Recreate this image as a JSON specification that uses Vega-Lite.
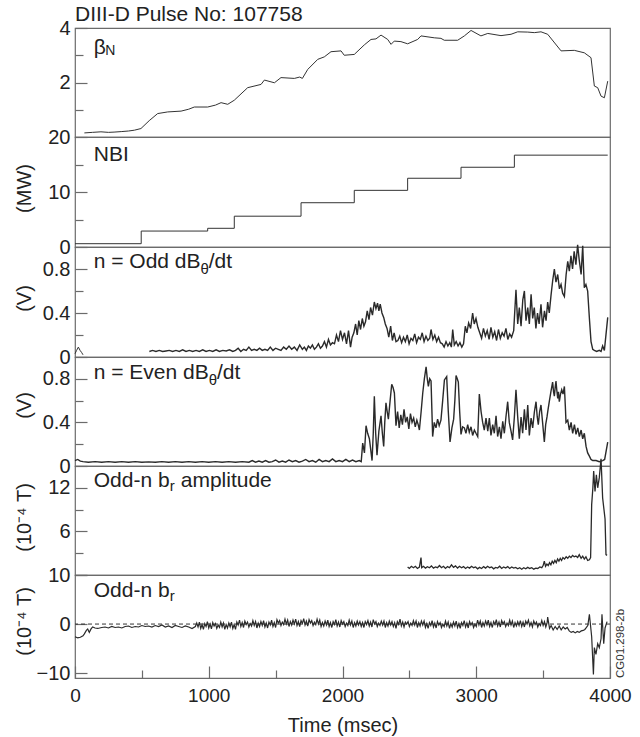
{
"$schema": "https://vega.github.io/schema/vega-lite/v6.json",
"padding": {"left": 13, "top": 4, "right": 0, "bottom": 0},
"title": {"text": "DIII-D Pulse No: 107758", "anchor": "start", "frame": "group", "fontSize": 21, "fontWeight": "normal", "color": "#222", "offset": -8},
"bounds": "flush",
"spacing": 0,
"datasets": {
"beta": [{"t":70,"v":0.15},{"t":130,"v":0.17},{"t":194,"v":0.19},{"t":250,"v":0.17},{"t":292,"v":0.18},{"t":350,"v":0.2},{"t":400,"v":0.22},{"t":444,"v":0.25},{"t":493,"v":0.31},{"t":555,"v":0.6},{"t":618,"v":0.86},{"t":693,"v":0.92},{"t":793,"v":0.95},{"t":850,"v":1.02},{"t":892,"v":1.1},{"t":992,"v":1.1},{"t":1050,"v":1.17},{"t":1092,"v":1.26},{"t":1142,"v":1.2},{"t":1191,"v":1.35},{"t":1291,"v":1.81},{"t":1391,"v":1.93},{"t":1416,"v":2.09},{"t":1491,"v":1.99},{"t":1540,"v":2.18},{"t":1640,"v":2.15},{"t":1680,"v":2.2},{"t":1700,"v":2.15},{"t":1740,"v":2.48},{"t":1815,"v":2.85},{"t":1864,"v":2.94},{"t":1914,"v":3.13},{"t":1989,"v":3.16},{"t":2013,"v":3.0},{"t":2088,"v":3.03},{"t":2163,"v":3.38},{"t":2213,"v":3.58},{"t":2250,"v":3.6},{"t":2288,"v":3.74},{"t":2338,"v":3.58},{"t":2363,"v":3.4},{"t":2387,"v":3.52},{"t":2437,"v":3.5},{"t":2487,"v":3.42},{"t":2562,"v":3.58},{"t":2587,"v":3.71},{"t":2686,"v":3.64},{"t":2736,"v":3.62},{"t":2761,"v":3.55},{"t":2861,"v":3.55},{"t":2911,"v":3.71},{"t":2961,"v":3.91},{"t":3035,"v":3.71},{"t":3086,"v":3.8},{"t":3185,"v":3.72},{"t":3260,"v":3.77},{"t":3310,"v":3.86},{"t":3385,"v":3.85},{"t":3434,"v":3.83},{"t":3484,"v":3.86},{"t":3534,"v":3.77},{"t":3634,"v":3.16},{"t":3733,"v":3.18},{"t":3808,"v":3.09},{"t":3858,"v":2.91},{"t":3883,"v":1.87},{"t":3908,"v":1.81},{"t":3933,"v":1.5},{"t":3958,"v":1.44},{"t":3983,"v":2.05}],
"nbi": [{"t":0,"v":0.6},{"t":495,"v":2.9},{"t":992,"v":3.4},{"t":1191,"v":5.6},{"t":1690,"v":8.05},{"t":2088,"v":10.3},{"t":2487,"v":12.5},{"t":2886,"v":14.5},{"t":3285,"v":16.7},{"t":3983,"v":16.7}],
"odd0": [{"t":0,"v":0.03},{"t":12,"v":0.06},{"t":25,"v":0.09},{"t":38,"v":0.06},{"t":50,"v":0.04},{"t":60,"v":0.02}],
"odd": [{"t":556,"v":0.05},{"t":580,"v":0.06},{"t":605,"v":0.05},{"t":630,"v":0.06},{"t":655,"v":0.05},{"t":680,"v":0.055},{"t":705,"v":0.06},{"t":730,"v":0.05},{"t":755,"v":0.06},{"t":780,"v":0.05},{"t":805,"v":0.065},{"t":830,"v":0.05},{"t":855,"v":0.06},{"t":880,"v":0.05},{"t":905,"v":0.06},{"t":930,"v":0.05},{"t":955,"v":0.065},{"t":980,"v":0.05},{"t":1005,"v":0.06},{"t":1030,"v":0.05},{"t":1055,"v":0.065},{"t":1080,"v":0.05},{"t":1105,"v":0.06},{"t":1130,"v":0.055},{"t":1155,"v":0.065},{"t":1180,"v":0.05},{"t":1200,"v":0.06},{"t":1220,"v":0.08},{"t":1240,"v":0.05},{"t":1260,"v":0.07},{"t":1280,"v":0.06},{"t":1300,"v":0.09},{"t":1320,"v":0.06},{"t":1340,"v":0.07},{"t":1360,"v":0.06},{"t":1380,"v":0.08},{"t":1400,"v":0.06},{"t":1420,"v":0.07},{"t":1440,"v":0.06},{"t":1460,"v":0.09},{"t":1480,"v":0.06},{"t":1500,"v":0.08},{"t":1520,"v":0.07},{"t":1540,"v":0.06},{"t":1560,"v":0.09},{"t":1580,"v":0.07},{"t":1600,"v":0.1},{"t":1620,"v":0.07},{"t":1640,"v":0.09},{"t":1660,"v":0.06},{"t":1680,"v":0.11},{"t":1700,"v":0.07},{"t":1715,"v":0.09},{"t":1730,"v":0.06},{"t":1745,"v":0.1},{"t":1760,"v":0.08},{"t":1775,"v":0.11},{"t":1790,"v":0.07},{"t":1805,"v":0.09},{"t":1820,"v":0.12},{"t":1835,"v":0.08},{"t":1850,"v":0.1},{"t":1865,"v":0.14},{"t":1880,"v":0.09},{"t":1895,"v":0.16},{"t":1910,"v":0.11},{"t":1925,"v":0.13},{"t":1940,"v":0.12},{"t":1955,"v":0.2},{"t":1970,"v":0.14},{"t":1985,"v":0.24},{"t":2000,"v":0.16},{"t":2015,"v":0.22},{"t":2030,"v":0.12},{"t":2045,"v":0.24},{"t":2060,"v":0.09},{"t":2072,"v":0.18},{"t":2085,"v":0.22},{"t":2098,"v":0.3},{"t":2110,"v":0.2},{"t":2122,"v":0.33},{"t":2135,"v":0.25},{"t":2148,"v":0.35},{"t":2160,"v":0.28},{"t":2172,"v":0.32},{"t":2185,"v":0.42},{"t":2198,"v":0.34},{"t":2210,"v":0.45},{"t":2224,"v":0.38},{"t":2238,"v":0.5},{"t":2250,"v":0.44},{"t":2262,"v":0.49},{"t":2272,"v":0.42},{"t":2282,"v":0.48},{"t":2295,"v":0.4},{"t":2308,"v":0.36},{"t":2320,"v":0.3},{"t":2333,"v":0.26},{"t":2346,"v":0.18},{"t":2360,"v":0.28},{"t":2373,"v":0.15},{"t":2386,"v":0.22},{"t":2400,"v":0.14},{"t":2414,"v":0.15},{"t":2428,"v":0.19},{"t":2442,"v":0.13},{"t":2456,"v":0.18},{"t":2470,"v":0.14},{"t":2484,"v":0.2},{"t":2498,"v":0.12},{"t":2512,"v":0.17},{"t":2526,"v":0.15},{"t":2540,"v":0.21},{"t":2554,"v":0.13},{"t":2568,"v":0.18},{"t":2582,"v":0.16},{"t":2596,"v":0.22},{"t":2610,"v":0.14},{"t":2624,"v":0.19},{"t":2638,"v":0.15},{"t":2652,"v":0.17},{"t":2662,"v":0.25},{"t":2676,"v":0.16},{"t":2690,"v":0.2},{"t":2704,"v":0.14},{"t":2718,"v":0.18},{"t":2732,"v":0.13},{"t":2746,"v":0.12},{"t":2760,"v":0.09},{"t":2774,"v":0.14},{"t":2788,"v":0.1},{"t":2802,"v":0.13},{"t":2814,"v":0.09},{"t":2824,"v":0.25},{"t":2836,"v":0.11},{"t":2850,"v":0.14},{"t":2864,"v":0.1},{"t":2878,"v":0.13},{"t":2892,"v":0.09},{"t":2905,"v":0.12},{"t":2918,"v":0.28},{"t":2930,"v":0.22},{"t":2943,"v":0.31},{"t":2958,"v":0.26},{"t":2973,"v":0.4},{"t":2985,"v":0.3},{"t":2998,"v":0.35},{"t":3012,"v":0.27},{"t":3026,"v":0.22},{"t":3040,"v":0.17},{"t":3054,"v":0.26},{"t":3068,"v":0.19},{"t":3082,"v":0.24},{"t":3096,"v":0.16},{"t":3110,"v":0.27},{"t":3124,"v":0.18},{"t":3138,"v":0.23},{"t":3152,"v":0.15},{"t":3166,"v":0.25},{"t":3180,"v":0.17},{"t":3194,"v":0.22},{"t":3208,"v":0.19},{"t":3222,"v":0.26},{"t":3236,"v":0.16},{"t":3250,"v":0.21},{"t":3264,"v":0.18},{"t":3280,"v":0.24},{"t":3297,"v":0.61},{"t":3310,"v":0.3},{"t":3322,"v":0.45},{"t":3335,"v":0.28},{"t":3348,"v":0.52},{"t":3360,"v":0.6},{"t":3372,"v":0.33},{"t":3385,"v":0.45},{"t":3397,"v":0.3},{"t":3410,"v":0.57},{"t":3422,"v":0.35},{"t":3434,"v":0.45},{"t":3446,"v":0.26},{"t":3458,"v":0.4},{"t":3470,"v":0.3},{"t":3484,"v":0.48},{"t":3496,"v":0.27},{"t":3510,"v":0.42},{"t":3522,"v":0.33},{"t":3534,"v":0.5},{"t":3546,"v":0.4},{"t":3559,"v":0.56},{"t":3572,"v":0.7},{"t":3584,"v":0.8},{"t":3596,"v":0.68},{"t":3609,"v":0.75},{"t":3622,"v":0.62},{"t":3634,"v":0.66},{"t":3646,"v":0.58},{"t":3659,"v":0.55},{"t":3672,"v":0.75},{"t":3684,"v":0.87},{"t":3696,"v":0.78},{"t":3708,"v":0.92},{"t":3720,"v":0.8},{"t":3732,"v":0.96},{"t":3745,"v":0.84},{"t":3758,"v":1.02},{"t":3770,"v":0.88},{"t":3784,"v":0.75},{"t":3796,"v":1.01},{"t":3808,"v":0.63},{"t":3820,"v":0.66},{"t":3833,"v":0.6},{"t":3846,"v":0.35},{"t":3858,"v":0.14},{"t":3871,"v":0.07},{"t":3883,"v":0.06},{"t":3900,"v":0.05},{"t":3920,"v":0.06},{"t":3933,"v":0.05},{"t":3945,"v":0.1},{"t":3958,"v":0.06},{"t":3983,"v":0.36}],
"even": [{"t":0,"v":0.05},{"t":20,"v":0.06},{"t":40,"v":0.045},{"t":60,"v":0.04},{"t":100,"v":0.035},{"t":150,"v":0.04},{"t":200,"v":0.035},{"t":250,"v":0.04},{"t":300,"v":0.035},{"t":350,"v":0.04},{"t":400,"v":0.035},{"t":450,"v":0.04},{"t":500,"v":0.035},{"t":550,"v":0.038},{"t":600,"v":0.035},{"t":650,"v":0.04},{"t":700,"v":0.035},{"t":750,"v":0.04},{"t":800,"v":0.035},{"t":850,"v":0.04},{"t":900,"v":0.035},{"t":950,"v":0.04},{"t":1000,"v":0.035},{"t":1050,"v":0.04},{"t":1100,"v":0.035},{"t":1150,"v":0.04},{"t":1200,"v":0.035},{"t":1250,"v":0.04},{"t":1300,"v":0.035},{"t":1325,"v":0.05},{"t":1350,"v":0.035},{"t":1375,"v":0.045},{"t":1400,"v":0.035},{"t":1425,"v":0.05},{"t":1450,"v":0.035},{"t":1475,"v":0.04},{"t":1500,"v":0.055},{"t":1525,"v":0.035},{"t":1550,"v":0.045},{"t":1575,"v":0.035},{"t":1600,"v":0.055},{"t":1625,"v":0.04},{"t":1650,"v":0.05},{"t":1675,"v":0.035},{"t":1700,"v":0.045},{"t":1725,"v":0.06},{"t":1750,"v":0.04},{"t":1775,"v":0.05},{"t":1800,"v":0.035},{"t":1825,"v":0.06},{"t":1850,"v":0.04},{"t":1875,"v":0.05},{"t":1900,"v":0.04},{"t":1925,"v":0.065},{"t":1950,"v":0.04},{"t":1975,"v":0.05},{"t":2000,"v":0.04},{"t":2025,"v":0.06},{"t":2050,"v":0.04},{"t":2075,"v":0.055},{"t":2100,"v":0.04},{"t":2125,"v":0.05},{"t":2140,"v":0.04},{"t":2151,"v":0.21},{"t":2164,"v":0.12},{"t":2176,"v":0.37},{"t":2188,"v":0.3},{"t":2201,"v":0.25},{"t":2211,"v":0.15},{"t":2221,"v":0.05},{"t":2230,"v":0.3},{"t":2238,"v":0.64},{"t":2248,"v":0.3},{"t":2258,"v":0.1},{"t":2272,"v":0.32},{"t":2288,"v":0.46},{"t":2298,"v":0.3},{"t":2308,"v":0.18},{"t":2316,"v":0.4},{"t":2325,"v":0.58},{"t":2334,"v":0.5},{"t":2343,"v":0.43},{"t":2356,"v":0.6},{"t":2368,"v":0.75},{"t":2378,"v":0.72},{"t":2388,"v":0.67},{"t":2400,"v":0.37},{"t":2412,"v":0.5},{"t":2424,"v":0.35},{"t":2436,"v":0.47},{"t":2448,"v":0.38},{"t":2460,"v":0.52},{"t":2472,"v":0.4},{"t":2484,"v":0.45},{"t":2496,"v":0.34},{"t":2508,"v":0.48},{"t":2520,"v":0.4},{"t":2532,"v":0.44},{"t":2544,"v":0.36},{"t":2556,"v":0.42},{"t":2566,"v":0.38},{"t":2575,"v":0.33},{"t":2588,"v":0.5},{"t":2600,"v":0.67},{"t":2612,"v":0.8},{"t":2625,"v":0.91},{"t":2634,"v":0.8},{"t":2642,"v":0.73},{"t":2652,"v":0.8},{"t":2662,"v":0.78},{"t":2674,"v":0.27},{"t":2686,"v":0.4},{"t":2699,"v":0.35},{"t":2711,"v":0.43},{"t":2723,"v":0.37},{"t":2736,"v":0.42},{"t":2749,"v":0.6},{"t":2762,"v":0.79},{"t":2779,"v":0.82},{"t":2791,"v":0.5},{"t":2804,"v":0.22},{"t":2818,"v":0.35},{"t":2831,"v":0.43},{"t":2840,"v":0.6},{"t":2849,"v":0.83},{"t":2858,"v":0.8},{"t":2866,"v":0.77},{"t":2876,"v":0.5},{"t":2886,"v":0.29},{"t":2898,"v":0.36},{"t":2911,"v":0.35},{"t":2923,"v":0.3},{"t":2936,"v":0.38},{"t":2948,"v":0.31},{"t":2961,"v":0.36},{"t":2973,"v":0.28},{"t":2986,"v":0.33},{"t":2998,"v":0.3},{"t":3011,"v":0.27},{"t":3023,"v":0.66},{"t":3036,"v":0.5},{"t":3048,"v":0.4},{"t":3060,"v":0.33},{"t":3073,"v":0.44},{"t":3086,"v":0.32},{"t":3098,"v":0.44},{"t":3110,"v":0.28},{"t":3123,"v":0.38},{"t":3135,"v":0.3},{"t":3148,"v":0.46},{"t":3160,"v":0.27},{"t":3173,"v":0.36},{"t":3185,"v":0.25},{"t":3198,"v":0.41},{"t":3210,"v":0.3},{"t":3222,"v":0.45},{"t":3235,"v":0.59},{"t":3247,"v":0.4},{"t":3260,"v":0.32},{"t":3272,"v":0.24},{"t":3285,"v":0.45},{"t":3297,"v":0.7},{"t":3310,"v":0.45},{"t":3322,"v":0.25},{"t":3335,"v":0.45},{"t":3347,"v":0.3},{"t":3360,"v":0.52},{"t":3372,"v":0.33},{"t":3385,"v":0.56},{"t":3397,"v":0.28},{"t":3410,"v":0.44},{"t":3422,"v":0.35},{"t":3435,"v":0.5},{"t":3447,"v":0.59},{"t":3456,"v":0.45},{"t":3464,"v":0.38},{"t":3474,"v":0.5},{"t":3484,"v":0.56},{"t":3496,"v":0.4},{"t":3509,"v":0.22},{"t":3519,"v":0.38},{"t":3529,"v":0.45},{"t":3537,"v":0.52},{"t":3546,"v":0.59},{"t":3558,"v":0.68},{"t":3571,"v":0.77},{"t":3578,"v":0.68},{"t":3584,"v":0.64},{"t":3590,"v":0.72},{"t":3596,"v":0.78},{"t":3602,"v":0.7},{"t":3609,"v":0.62},{"t":3615,"v":0.68},{"t":3621,"v":0.59},{"t":3630,"v":0.66},{"t":3639,"v":0.7},{"t":3649,"v":0.66},{"t":3659,"v":0.73},{"t":3666,"v":0.55},{"t":3671,"v":0.4},{"t":3684,"v":0.42},{"t":3696,"v":0.33},{"t":3709,"v":0.4},{"t":3721,"v":0.3},{"t":3734,"v":0.38},{"t":3746,"v":0.29},{"t":3759,"v":0.35},{"t":3771,"v":0.27},{"t":3784,"v":0.33},{"t":3796,"v":0.25},{"t":3808,"v":0.3},{"t":3821,"v":0.18},{"t":3833,"v":0.12},{"t":3846,"v":0.09},{"t":3858,"v":0.06},{"t":3871,"v":0.05},{"t":3896,"v":0.05},{"t":3920,"v":0.04},{"t":3945,"v":0.05},{"t":3960,"v":0.06},{"t":3983,"v":0.22}],
"amp": [{"t":2487,"v":1.1},{"t":2500,"v":0.9},{"t":2515,"v":1.2},{"t":2530,"v":1.0},{"t":2545,"v":1.2},{"t":2560,"v":0.9},{"t":2575,"v":1.1},{"t":2587,"v":2.4},{"t":2592,"v":1.0},{"t":2605,"v":1.2},{"t":2620,"v":0.95},{"t":2635,"v":1.15},{"t":2650,"v":1.0},{"t":2665,"v":1.25},{"t":2680,"v":0.95},{"t":2695,"v":1.1},{"t":2710,"v":1.0},{"t":2725,"v":1.3},{"t":2740,"v":1.0},{"t":2755,"v":1.2},{"t":2770,"v":0.9},{"t":2785,"v":1.15},{"t":2800,"v":1.0},{"t":2815,"v":1.4},{"t":2830,"v":1.05},{"t":2845,"v":1.25},{"t":2860,"v":0.95},{"t":2875,"v":1.2},{"t":2890,"v":1.0},{"t":2905,"v":1.15},{"t":2920,"v":0.9},{"t":2935,"v":1.1},{"t":2950,"v":0.95},{"t":2965,"v":1.2},{"t":2980,"v":1.0},{"t":2995,"v":1.1},{"t":3010,"v":0.85},{"t":3025,"v":1.05},{"t":3040,"v":0.9},{"t":3055,"v":1.15},{"t":3070,"v":0.95},{"t":3085,"v":1.2},{"t":3100,"v":1.0},{"t":3115,"v":1.1},{"t":3130,"v":0.85},{"t":3145,"v":1.05},{"t":3160,"v":0.95},{"t":3175,"v":1.2},{"t":3190,"v":0.9},{"t":3205,"v":1.1},{"t":3220,"v":0.95},{"t":3235,"v":1.15},{"t":3250,"v":0.9},{"t":3265,"v":1.1},{"t":3280,"v":0.95},{"t":3295,"v":1.05},{"t":3310,"v":0.85},{"t":3325,"v":1.0},{"t":3340,"v":0.8},{"t":3355,"v":1.0},{"t":3370,"v":0.85},{"t":3385,"v":1.05},{"t":3400,"v":0.9},{"t":3415,"v":1.0},{"t":3430,"v":0.8},{"t":3445,"v":0.95},{"t":3460,"v":0.9},{"t":3475,"v":1.1},{"t":3490,"v":1.0},{"t":3500,"v":1.3},{"t":3509,"v":1.9},{"t":3518,"v":1.2},{"t":3528,"v":1.5},{"t":3538,"v":1.3},{"t":3548,"v":1.7},{"t":3558,"v":1.4},{"t":3568,"v":1.9},{"t":3578,"v":1.6},{"t":3588,"v":2.0},{"t":3598,"v":1.7},{"t":3608,"v":2.2},{"t":3618,"v":1.9},{"t":3628,"v":2.3},{"t":3638,"v":2.0},{"t":3648,"v":2.4},{"t":3660,"v":2.2},{"t":3672,"v":2.5},{"t":3684,"v":2.3},{"t":3696,"v":2.6},{"t":3708,"v":2.4},{"t":3720,"v":2.7},{"t":3732,"v":2.5},{"t":3745,"v":2.6},{"t":3758,"v":2.4},{"t":3770,"v":2.8},{"t":3784,"v":2.3},{"t":3796,"v":2.6},{"t":3808,"v":2.2},{"t":3820,"v":2.5},{"t":3833,"v":2.0},{"t":3846,"v":2.1},{"t":3855,"v":2.4},{"t":3863,"v":9.7},{"t":3872,"v":12.0},{"t":3878,"v":14.3},{"t":3888,"v":11.5},{"t":3898,"v":13.8},{"t":3908,"v":12.0},{"t":3920,"v":13.4},{"t":3933,"v":16.0},{"t":3945,"v":10.6},{"t":3963,"v":7.7},{"t":3970,"v":2.8},{"t":3978,"v":2.7}],
"br": [{"t":0,"v":-2.6},{"t":20,"v":-2.8},{"t":40,"v":-2.7},{"t":60,"v":-2.4},{"t":70,"v":-2.0},{"t":85,"v":-1.3},{"t":95,"v":-1.0},{"t":107,"v":-1.7},{"t":120,"v":-1.0},{"t":132,"v":-0.6},{"t":150,"v":-0.8},{"t":170,"v":-0.9},{"t":200,"v":-0.7},{"t":225,"v":-0.6},{"t":250,"v":-0.8},{"t":275,"v":-0.5},{"t":300,"v":-0.7},{"t":325,"v":-0.6},{"t":350,"v":-0.8},{"t":375,"v":-0.5},{"t":400,"v":-0.4},{"t":425,"v":-0.7},{"t":450,"v":-0.5},{"t":475,"v":-0.6},{"t":500,"v":-0.3},{"t":525,"v":-0.5},{"t":550,"v":-0.4},{"t":575,"v":-0.6},{"t":600,"v":-0.3},{"t":625,"v":-0.5},{"t":650,"v":-0.2},{"t":675,"v":-0.6},{"t":700,"v":-0.4},{"t":725,"v":-0.7},{"t":750,"v":-0.3},{"t":775,"v":-0.5},{"t":800,"v":-0.7},{"t":825,"v":-0.4},{"t":850,"v":-0.6},{"t":875,"v":-0.9},{"t":900,"v":-0.5},
{"t":910,"v":0.2},{"t":920,"v":-0.6},{"t":930,"v":0.4},{"t":940,"v":-0.9},{"t":950,"v":-0.1},{"t":960,"v":-1.1},{"t":970,"v":0.1},{"t":980,"v":-0.5},{"t":990,"v":0.5},{"t":1000,"v":-0.8},{"t":1010,"v":0.0},{"t":1020,"v":-1.0},{"t":1030,"v":0.3},{"t":1040,"v":-0.4},{"t":1050,"v":0.1},{"t":1060,"v":-0.9},{"t":1070,"v":-0.2},{"t":1080,"v":-0.7},{"t":1090,"v":0.4},{"t":1100,"v":-0.6},{"t":1110,"v":0.2},{"t":1120,"v":-1.1},{"t":1130,"v":-0.1},{"t":1140,"v":-0.8},{"t":1150,"v":0.2},{"t":1160,"v":-0.6},{"t":1170,"v":0.4},{"t":1180,"v":-0.9},{"t":1190,"v":-0.1},{"t":1200,"v":-1.1},
{"t":1210,"v":0.4},{"t":1220,"v":-0.2},{"t":1230,"v":0.8},{"t":1240,"v":-0.5},{"t":1250,"v":0.3},{"t":1260,"v":-0.7},{"t":1270,"v":0.6},{"t":1280,"v":-0.1},{"t":1290,"v":0.4},{"t":1300,"v":-0.6},{"t":1310,"v":0.1},{"t":1320,"v":-0.4},{"t":1330,"v":0.7},{"t":1340,"v":-0.3},{"t":1350,"v":0.5},{"t":1360,"v":-0.8},{"t":1370,"v":0.2},{"t":1380,"v":-0.5},{"t":1390,"v":0.5},{"t":1400,"v":-0.3},{"t":1410,"v":0.7},{"t":1420,"v":-0.6},{"t":1430,"v":0.2},{"t":1440,"v":-0.8},{"t":1450,"v":0.4},{"t":1460,"v":-0.2},{"t":1470,"v":0.8},{"t":1480,"v":-0.5},{"t":1490,"v":0.3},{"t":1500,"v":-0.7},
{"t":1510,"v":0.9},{"t":1520,"v":0.2},{"t":1530,"v":0.7},{"t":1540,"v":-0.3},{"t":1550,"v":0.4},{"t":1560,"v":-0.1},{"t":1570,"v":1.0},{"t":1580,"v":0.0},{"t":1590,"v":0.8},{"t":1600,"v":-0.5},{"t":1610,"v":0.5},{"t":1620,"v":-0.2},{"t":1630,"v":0.8},{"t":1640,"v":0.0},{"t":1650,"v":1.0},{"t":1660,"v":-0.3},{"t":1670,"v":0.5},{"t":1680,"v":-0.5},{"t":1690,"v":0.7},{"t":1700,"v":0.1},{"t":1710,"v":1.1},{"t":1720,"v":-0.2},{"t":1730,"v":0.6},{"t":1740,"v":-0.4},{"t":1750,"v":0.9},{"t":1760,"v":0.2},{"t":1770,"v":0.7},{"t":1780,"v":-0.3},{"t":1790,"v":0.4},{"t":1800,"v":-0.1},{"t":1810,"v":1.0},{"t":1820,"v":0.0},{"t":1830,"v":0.8},{"t":1840,"v":-0.5},
{"t":1850,"v":0.3},{"t":1860,"v":-0.4},{"t":1870,"v":0.6},{"t":1880,"v":-0.2},{"t":1890,"v":0.8},{"t":1900,"v":-0.5},{"t":1910,"v":0.3},{"t":1920,"v":-0.7},{"t":1930,"v":0.5},{"t":1940,"v":-0.1},{"t":1950,"v":0.9},{"t":1960,"v":-0.4},{"t":1970,"v":0.4},{"t":1980,"v":-0.6},{"t":1990,"v":0.7},{"t":2000,"v":0.0},{"t":2010,"v":0.5},{"t":2020,"v":-0.5},{"t":2030,"v":0.2},{"t":2040,"v":-0.3},{"t":2050,"v":0.8},{"t":2060,"v":-0.2},{"t":2070,"v":0.6},{"t":2080,"v":-0.7},{"t":2090,"v":0.3},{"t":2100,"v":-0.4},
{"t":2110,"v":0.6},{"t":2120,"v":-0.2},{"t":2130,"v":0.5},{"t":2140,"v":-0.5},{"t":2150,"v":0.3},{"t":2160,"v":-0.7},{"t":2170,"v":0.5},{"t":2180,"v":-0.1},{"t":2190,"v":0.7},{"t":2200,"v":-0.4},{"t":2210,"v":0.4},{"t":2220,"v":-0.6},{"t":2230,"v":0.9},{"t":2240,"v":0.0},{"t":2250,"v":0.5},{"t":2260,"v":-0.5},{"t":2270,"v":0.2},{"t":2280,"v":-0.3},{"t":2290,"v":0.6},{"t":2300,"v":-0.2},{"t":2310,"v":0.6},{"t":2320,"v":-0.7},{"t":2330,"v":0.3},{"t":2340,"v":-0.4},
{"t":2350,"v":0.6},{"t":2360,"v":-0.2},{"t":2370,"v":0.5},{"t":2380,"v":-0.5},{"t":2390,"v":0.3},{"t":2400,"v":-0.9},{"t":2410,"v":0.5},{"t":2420,"v":-0.1},{"t":2430,"v":1.0},{"t":2440,"v":-0.4},{"t":2450,"v":0.4},{"t":2460,"v":-0.6},{"t":2470,"v":0.4},{"t":2480,"v":0.0},{"t":2490,"v":0.5},{"t":2500,"v":-0.5},{"t":2510,"v":0.2},{"t":2520,"v":-0.3},{"t":2530,"v":0.7},{"t":2540,"v":-0.2},{"t":2550,"v":0.6},{"t":2560,"v":-0.7},{"t":2570,"v":0.3},{"t":2580,"v":-0.4},{"t":2590,"v":0.6},{"t":2600,"v":-0.2},
{"t":2610,"v":0.6},{"t":2620,"v":-0.7},{"t":2630,"v":0.1},{"t":2640,"v":-0.9},{"t":2650,"v":0.3},{"t":2660,"v":-0.3},{"t":2670,"v":0.7},{"t":2680,"v":-0.6},{"t":2690,"v":0.2},{"t":2700,"v":-0.8},{"t":2710,"v":0.5},{"t":2720,"v":-0.2},{"t":2730,"v":0.3},{"t":2740,"v":-0.7},{"t":2750,"v":0.0},{"t":2760,"v":-0.5},{"t":2770,"v":0.6},{"t":2780,"v":-0.4},{"t":2790,"v":0.4},{"t":2800,"v":-0.9},{"t":2810,"v":0.1},{"t":2820,"v":-0.6},{"t":2830,"v":0.4},{"t":2840,"v":-0.4},{"t":2850,"v":0.6},{"t":2860,"v":-0.7},{"t":2870,"v":0.1},{"t":2880,"v":-0.9},{"t":2890,"v":0.3},{"t":2900,"v":-0.3},{"t":2910,"v":0.7},{"t":2920,"v":-0.6},{"t":2930,"v":0.2},{"t":2940,"v":-0.8},{"t":2950,"v":0.5},{"t":2960,"v":-0.2},{"t":2970,"v":0.3},{"t":2980,"v":-0.7},{"t":2990,"v":0.0},{"t":3000,"v":-0.5},
{"t":3010,"v":0.8},{"t":3020,"v":-0.2},{"t":3030,"v":0.6},{"t":3040,"v":-0.7},{"t":3050,"v":0.3},{"t":3060,"v":-0.4},{"t":3070,"v":0.6},{"t":3080,"v":-0.2},{"t":3090,"v":0.8},{"t":3100,"v":-0.5},{"t":3110,"v":0.3},{"t":3120,"v":-0.7},{"t":3130,"v":0.5},{"t":3140,"v":-0.1},{"t":3150,"v":0.9},{"t":3160,"v":-0.4},{"t":3170,"v":0.4},{"t":3180,"v":-0.6},{"t":3190,"v":0.7},{"t":3200,"v":0.0},{"t":3210,"v":0.5},{"t":3220,"v":-0.5},{"t":3230,"v":0.2},{"t":3240,"v":-0.3},{"t":3250,"v":0.8},{"t":3260,"v":-0.2},{"t":3270,"v":0.6},{"t":3280,"v":-0.7},{"t":3290,"v":0.3},{"t":3300,"v":-0.4},{"t":3310,"v":0.5},{"t":3320,"v":-0.3},{"t":3330,"v":0.7},{"t":3340,"v":-0.5},{"t":3350,"v":0.4},{"t":3360,"v":-0.6},{"t":3370,"v":0.6},{"t":3380,"v":0.0},{"t":3390,"v":0.8},{"t":3400,"v":-0.4},{"t":3410,"v":0.3},{"t":3420,"v":-0.6},{"t":3430,"v":0.6},{"t":3440,"v":-0.1},{"t":3450,"v":0.4},{"t":3460,"v":-0.6},{"t":3470,"v":0.1},{"t":3480,"v":-0.3},{"t":3490,"v":0.7},{"t":3500,"v":-0.3},{"t":3510,"v":0.5},{"t":3520,"v":-0.6},{"t":3530,"v":0.3},
{"t":3534,"v":1.4},{"t":3548,"v":-0.9},{"t":3560,"v":-0.3},{"t":3575,"v":-1.2},{"t":3590,"v":-0.5},{"t":3605,"v":-1.1},{"t":3620,"v":-0.4},{"t":3635,"v":-1.2},{"t":3650,"v":-0.6},{"t":3665,"v":-1.0},{"t":3680,"v":-0.7},{"t":3695,"v":-1.4},{"t":3710,"v":-1.7},{"t":3725,"v":-1.5},{"t":3740,"v":-1.8},{"t":3755,"v":-1.5},{"t":3770,"v":-1.7},{"t":3785,"v":-1.4},{"t":3800,"v":-1.3},{"t":3812,"v":-1.1},{"t":3821,"v":-0.8},{"t":3834,"v":-0.3},{"t":3846,"v":2.0},{"t":3863,"v":-2.6},{"t":3876,"v":-10.3},{"t":3883,"v":-4.8},{"t":3895,"v":-6.2},{"t":3908,"v":-4.0},{"t":3920,"v":-4.8},{"t":3933,"v":-3.0},{"t":3940,"v":2.0},{"t":3953,"v":-4.0},{"t":3963,"v":-0.8},{"t":3978,"v":0.5}]
},
"vconcat": [
{"width": 535, "height": 109,
 "layer": [
  {"data": {"name": "beta"}, "mark": {"type": "line"},
   "encoding": {"x": {"field": "t", "type": "quantitative", "scale": {"domain": [0, 4000], "nice": false}, "axis": null},
     "y": {"field": "v", "type": "quantitative", "scale": {"domain": [0, 4], "nice": false, "zero": false}, "axis": {"values": [2, 4], "tickSize": -12, "labelPadding": 17, "title": null}}}},
  {"data": {"values": [{}]}, "mark": {"type": "text", "text": "β"},
   "encoding": {"x": {"datum": 140, "type": "quantitative", "axis": null}, "y": {"datum": 3.06, "type": "quantitative", "axis": {"orient": "left", "values": [1, 3], "tickSize": -8, "labels": false, "title": null}}}},
  {"data": {"values": [{}]}, "mark": {"type": "text", "text": "N", "fontSize": 14, "dx": 11.5, "dy": 1},
   "encoding": {"x": {"datum": 140, "type": "quantitative", "axis": null}, "y": {"datum": 3.06, "type": "quantitative", "axis": null}}}
 ],
 "resolve": {"axis": {"y": "independent"}}
},
{"width": 535, "height": 110,
 "layer": [
  {"data": {"name": "nbi"}, "mark": {"type": "line", "interpolate": "step-after"},
   "encoding": {"x": {"field": "t", "type": "quantitative", "scale": {"domain": [0, 4000], "nice": false}, "axis": null},
     "y": {"field": "v", "type": "quantitative", "scale": {"domain": [0, 20], "nice": false}, "axis": {"values": [0, 10, 20], "tickSize": -12, "labelPadding": 17, "title": "(MW)", "titleX": -41, "titleY": 51, "titleAngle": 270, "titleBaseline": "bottom", "titleAlign": "center"}}}},
  {"data": {"values": [{}]}, "mark": {"type": "text", "text": "NBI"},
   "encoding": {"x": {"datum": 140, "type": "quantitative", "axis": null}, "y": {"datum": 15.6, "type": "quantitative", "axis": {"orient": "left", "values": [5, 15], "tickSize": -8, "labels": false, "title": null}}}}
 ],
 "resolve": {"axis": {"y": "independent"}}
},
{"width": 535, "height": 110,
 "layer": [
  {"data": {"name": "odd0"}, "mark": {"type": "line"},
   "encoding": {"x": {"field": "t", "type": "quantitative", "scale": {"domain": [0, 4000], "nice": false}, "axis": null},
     "y": {"field": "v", "type": "quantitative", "scale": {"domain": [0, 1], "nice": false}, "axis": {"values": [0, 0.4, 0.8], "format": ".1~f", "tickSize": -12, "labelPadding": 17, "title": "(V)", "titleX": -41, "titleY": 51, "titleAngle": 270, "titleBaseline": "bottom", "titleAlign": "center"}}}},
  {"data": {"name": "odd"}, "mark": {"type": "line", "strokeWidth": 1.4, "color": "#2a2a2a"},
   "encoding": {"x": {"field": "t", "type": "quantitative", "axis": null}, "y": {"field": "v", "type": "quantitative", "axis": null}}},
  {"data": {"values": [{}]}, "mark": {"type": "text", "text": "n = Odd dB"},
   "encoding": {"x": {"datum": 140, "type": "quantitative", "axis": null}, "y": {"datum": 0.81, "type": "quantitative", "axis": {"orient": "left", "values": [0.2, 0.6], "tickSize": -8, "labels": false, "title": null}}}},
  {"data": {"values": [{}]}, "mark": {"type": "text", "text": "θ", "fontSize": 15, "dx": 106.8, "dy": 6},
   "encoding": {"x": {"datum": 140, "type": "quantitative", "axis": null}, "y": {"datum": 0.81, "type": "quantitative", "axis": null}}},
  {"data": {"values": [{}]}, "mark": {"type": "text", "text": "/dt", "dx": 115},
   "encoding": {"x": {"datum": 140, "type": "quantitative", "axis": null}, "y": {"datum": 0.81, "type": "quantitative", "axis": null}}}
 ],
 "resolve": {"axis": {"y": "independent"}}
},
{"width": 535, "height": 109,
 "layer": [
  {"data": {"name": "even"}, "mark": {"type": "line", "strokeWidth": 1.4, "color": "#2a2a2a"},
   "encoding": {"x": {"field": "t", "type": "quantitative", "scale": {"domain": [0, 4000], "nice": false}, "axis": null},
     "y": {"field": "v", "type": "quantitative", "scale": {"domain": [0, 1], "nice": false}, "axis": {"values": [0, 0.4, 0.8], "format": ".1~f", "tickSize": -12, "labelPadding": 17, "title": "(V)", "titleX": -41, "titleY": 48, "titleAngle": 270, "titleBaseline": "bottom", "titleAlign": "center"}}}},
  {"data": {"values": [{}]}, "mark": {"type": "text", "text": "n = Even dB"},
   "encoding": {"x": {"datum": 140, "type": "quantitative", "axis": null}, "y": {"datum": 0.795, "type": "quantitative", "axis": {"orient": "left", "values": [0.2, 0.6], "tickSize": -8, "labels": false, "title": null}}}},
  {"data": {"values": [{}]}, "mark": {"type": "text", "text": "θ", "fontSize": 15, "dx": 115, "dy": 6},
   "encoding": {"x": {"datum": 140, "type": "quantitative", "axis": null}, "y": {"datum": 0.795, "type": "quantitative", "axis": null}}},
  {"data": {"values": [{}]}, "mark": {"type": "text", "text": "/dt", "dx": 123.3},
   "encoding": {"x": {"datum": 140, "type": "quantitative", "axis": null}, "y": {"datum": 0.795, "type": "quantitative", "axis": null}}}
 ],
 "resolve": {"axis": {"y": "independent"}}
},
{"width": 535, "height": 109,
 "layer": [
  {"data": {"name": "amp"}, "mark": {"type": "line", "strokeWidth": 1.3, "color": "#2a2a2a"},
   "encoding": {"x": {"field": "t", "type": "quantitative", "scale": {"domain": [0, 4000], "nice": false}, "axis": null},
     "y": {"field": "v", "type": "quantitative", "scale": {"domain": [0, 15], "nice": false}, "axis": {"values": [0, 6, 12], "labelExpr": "datum.value == 0 ? '' : datum.label", "tickSize": -12, "labelPadding": 17, "title": "(10⁻⁴ T)", "titleX": -41, "titleY": 51, "titleAngle": 270, "titleBaseline": "bottom", "titleAlign": "center"}}}},
  {"data": {"values": [{}]}, "mark": {"type": "text", "text": "Odd-n b"},
   "encoding": {"x": {"datum": 140, "type": "quantitative", "axis": null}, "y": {"datum": 12.1, "type": "quantitative", "axis": {"orient": "left", "values": [3, 9], "tickSize": -8, "labels": false, "title": null}}}},
  {"data": {"values": [{}]}, "mark": {"type": "text", "text": "r", "fontSize": 15, "dx": 76, "dy": 4},
   "encoding": {"x": {"datum": 140, "type": "quantitative", "axis": null}, "y": {"datum": 12.1, "type": "quantitative", "axis": null}}},
  {"data": {"values": [{}]}, "mark": {"type": "text", "text": "amplitude", "dx": 87},
   "encoding": {"x": {"datum": 140, "type": "quantitative", "axis": null}, "y": {"datum": 12.1, "type": "quantitative", "axis": null}}}
 ],
 "resolve": {"axis": {"y": "independent"}}
},
{"width": 535, "height": 103,
 "layer": [
  {"data": {"name": "br"}, "mark": {"type": "line", "strokeWidth": 1.2, "color": "#2a2a2a"},
   "encoding": {"x": {"field": "t", "type": "quantitative", "scale": {"domain": [0, 4000], "nice": false}, "axis": {"values": [0, 1000, 2000, 3000, 4000], "format": "d", "tickSize": -12, "labelPadding": 20, "labelFontSize": 19, "title": "Time (msec)", "titleX": 267.5, "titleY": 37, "titleBaseline": "top", "titleAlign": "center"}},
     "y": {"field": "v", "type": "quantitative", "scale": {"domain": [-11, 10], "nice": false, "zero": false}, "axis": {"values": [-10, 0, 10], "tickSize": -12, "labelPadding": 17, "title": "(10⁻⁴ T)", "titleX": -41, "titleY": 46, "titleAngle": 270, "titleBaseline": "bottom", "titleAlign": "center"}}}},
  {"data": {"values": [{}]}, "mark": {"type": "rule", "strokeDash": [4, 3], "color": "#333", "strokeWidth": 1},
   "encoding": {"y": {"datum": 0, "type": "quantitative", "axis": null}}},
  {"data": {"values": [{}]}, "mark": {"type": "text", "text": "Odd-n b"},
   "encoding": {"x": {"datum": 140, "type": "quantitative", "axis": {"orient": "bottom", "values": [500, 1500, 2500, 3500], "tickSize": -8, "labels": false, "title": null}}, "y": {"datum": 5.5, "type": "quantitative", "axis": null}}},
  {"data": {"values": [{}]}, "mark": {"type": "text", "text": "r", "fontSize": 15, "dx": 76, "dy": 4},
   "encoding": {"x": {"datum": 140, "type": "quantitative", "axis": null}, "y": {"datum": 5.5, "type": "quantitative", "axis": null}}},
  {"data": {"values": [{}]}, "mark": {"type": "text", "text": "CG01.298-2b", "angle": 270, "align": "left", "baseline": "top", "fontSize": 11.5, "dy": 5, "color": "#333"},
   "encoding": {"x": {"datum": 4000, "type": "quantitative", "axis": null}, "y": {"datum": -11, "type": "quantitative", "axis": null}}}
 ],
 "resolve": {"axis": {"x": "independent", "y": "independent"}}
}
],
"config": {
 "font": "Liberation Sans",
 "view": {"stroke": "#6b6b6b", "strokeWidth": 1.2},
 "axis": {"domain": false, "grid": false, "tickColor": "#6b6b6b", "tickWidth": 1.2, "labelColor": "#222", "titleColor": "#222", "labelFontSize": 20, "titleFontSize": 20, "titleFontWeight": "normal", "labelFlush": false, "labelOverlap": false, "labelFont": "Liberation Sans", "titleFont": "Liberation Sans"},
 "text": {"color": "#222", "fontSize": 21, "align": "left", "baseline": "alphabetic", "font": "Liberation Sans"},
 "line": {"color": "#333", "strokeWidth": 1}
}
}
